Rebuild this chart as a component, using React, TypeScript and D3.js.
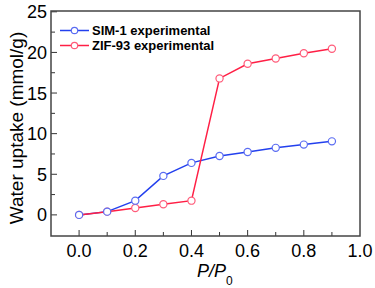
import { useEffect, useRef } from 'react'
import * as d3 from 'd3';

// Data
const pressures = [0.0, 0.1, 0.2, 0.3, 0.4, 0.5, 0.6, 0.7, 0.8, 0.9];
const sim1Uptake = [0.0, 0.4, 1.75, 4.8, 6.4, 7.25, 7.75, 8.25, 8.65, 9.05];
const zif93Uptake = [0.0, 0.4, 0.85, 1.3, 1.75, 16.8, 18.6, 19.25, 19.9, 20.45];
const xTicks = [0.0, 0.2, 0.4, 0.6, 0.8, 1.0];
const yTicks = [0, 5, 10, 15, 20, 25];
const seriesNames = ['SIM-1 experimental', 'ZIF-93 experimental'];

const App = () => {
  const canvas = useRef<SVGSVGElement>(null);

  useEffect(() => {
    const left = 51, right = 360, top = 11, bottom = 236;
    const font = 'Arial, "Liberation Sans", sans-serif';

    const svg = d3.select(canvas.current);
    svg.selectAll('*').remove();

    const x = d3.scaleLinear().domain([-0.1, 1.0]).range([left, right]);
    const y = d3.scaleLinear().domain([-2.6, 25.1]).range([bottom, top]);

    const series = [
      { name: seriesNames[0], values: sim1Uptake, line: '#2340ee', marker: '#5a6cf2' },
      { name: seriesNames[1], values: zif93Uptake, line: '#ff1f45', marker: '#ff5c7a' },
    ];

    // Ticks (inward), major and minor
    const tickG = svg.append('g').attr('stroke', '#333').attr('stroke-width', 1);
    d3.range(0, 10, 1).map(i => i / 10).forEach((v, i) => {
      const len = i % 2 === 0 ? 6 : 4;
      tickG.append('line').attr('x1', x(v)).attr('x2', x(v)).attr('y1', bottom).attr('y2', bottom - len);
    });
    d3.range(0, 11, 1).map(i => i * 2.5).forEach((v, i) => {
      const len = i % 2 === 0 ? 6 : 4;
      tickG.append('line').attr('x1', left).attr('x2', left + len).attr('y1', y(v)).attr('y2', y(v));
    });

    // Tick labels
    svg.append('g').selectAll('text').data(xTicks).join('text')
      .attr('x', d => x(d)).attr('y', 257)
      .attr('text-anchor', 'middle')
      .attr('font-family', font).attr('font-size', 18).attr('fill', '#000')
      .text(d => d3.format('.1f')(d));
    svg.append('g').selectAll('text').data(yTicks).join('text')
      .attr('x', left - 4).attr('y', d => y(d) + 6.5)
      .attr('text-anchor', 'end')
      .attr('font-family', font).attr('font-size', 18).attr('fill', '#000')
      .text(d => d);

    // Axis titles
    svg.append('text')
      .attr('transform', 'translate(23,128) rotate(-90)')
      .attr('text-anchor', 'middle')
      .attr('font-family', font).attr('font-size', 19).attr('fill', '#000')
      .text('Water uptake (mmol/g)');
    const xt = svg.append('text')
      .attr('x', 197).attr('y', 277)
      .attr('font-family', font).attr('font-size', 18).attr('fill', '#000');
    xt.append('tspan').attr('font-style', 'italic').text('P/P');
    xt.append('tspan').attr('font-size', 12).attr('dy', 8).text('0');

    // Lines and markers
    const line = d3.line<number>().x((d, i) => x(pressures[i])).y(d => y(d));
    series.forEach(s => {
      svg.append('path').datum(s.values)
        .attr('d', line).attr('fill', 'none')
        .attr('stroke', s.line).attr('stroke-width', 1.5);
    });
    series.slice().reverse().forEach(s => {
      svg.append('g').selectAll('circle').data(s.values).join('circle')
        .attr('cx', (d, i) => x(pressures[i])).attr('cy', d => y(d))
        .attr('r', 3.6).attr('fill', 'white')
        .attr('stroke', s.marker).attr('stroke-width', 1.2);
    });

    // Frame
    svg.append('rect')
      .attr('x', left).attr('y', top).attr('width', right - left).attr('height', bottom - top)
      .attr('fill', 'none').attr('stroke', '#444').attr('stroke-width', 1.5);

    // Legend
    series.forEach((s, i) => {
      const ly = 30.5 + i * 15;
      const g = svg.append('g');
      g.append('line').attr('x1', 60).attr('x2', 89).attr('y1', ly).attr('y2', ly)
        .attr('stroke', s.line).attr('stroke-width', 1.5);
      g.append('circle').attr('cx', 74.5).attr('cy', ly).attr('r', 3.2)
        .attr('fill', 'white').attr('stroke', s.marker).attr('stroke-width', 1.2);
      g.append('text').attr('x', 92).attr('y', ly + 4.7)
        .attr('font-family', font).attr('font-size', 13).attr('font-weight', 'bold')
        .attr('fill', '#000').text(s.name);
    });
  }, []);

  return (
    <svg ref={canvas} width={375} height={288}
      style={{ position: 'absolute', left: 0, top: 0, background: 'white' }} />
  );
}

export default App;
